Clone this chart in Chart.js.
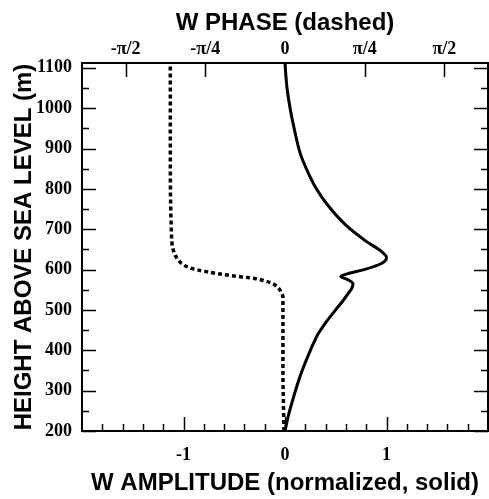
<!DOCTYPE html>
<html>
<head>
<meta charset="utf-8">
<script src="https://cdn.jsdelivr.net/npm/chart.js@4/dist/chart.umd.min.js"></script>
<style>
  html, body { margin: 0; padding: 0; background: #fff; }
  #wrap { width: 489px; height: 499px; }
</style>
</head>
<body>
<div id="wrap"><canvas id="myChart" width="489" height="499"></canvas></div>
<script>
// amplitude profile (solid)
let ampHeights = [200, 240, 276, 320, 357, 400, 420, 442, 470, 499, 524, 540, 555, 565, 575, 583, 590, 600, 615, 630, 645, 670, 710, 760, 804, 850, 888, 950, 1000, 1050, 1110];
let amplitude  = [0, 0.035, 0.075, 0.128, 0.18, 0.25, 0.286, 0.33, 0.405, 0.495, 0.575, 0.62, 0.66, 0.67, 0.62, 0.55, 0.62, 0.78, 0.95, 1.0, 0.95, 0.80, 0.60, 0.42, 0.30, 0.21, 0.15, 0.09, 0.05, 0.02, 0.0];

// phase profile (dashed), radians
let phaseHeights = [200, 350, 531, 545, 558, 565, 572, 578, 585, 595, 603, 612, 623, 648, 700, 900, 1110];
let phase        = [-0.01, -0.02, -0.02, -0.04, -0.08, -0.12, -0.2, -0.3, -0.53, -0.78, -0.92, -1.0, -1.05, -1.10, -1.12, -1.13, -1.13];

// tick labels
let ampTicks = [-1, 0, 1];
let phaseTicks = [-Math.PI / 2, -Math.PI / 4, 0, Math.PI / 4, Math.PI / 2];
let phaseLabels = ["-\u03c0/2", "-\u03c0/4", "0", "\u03c0/4", "\u03c0/2"];
let heightTicks = [200, 300, 400, 500, 600, 700, 800, 900, 1000, 1100];

let tickFont = { family: "'Liberation Serif', 'Times New Roman', serif", size: 18, weight: "bold" };
let titleFont = { family: "'Liberation Sans', Arial, sans-serif", size: 24, weight: "bold" };

// frame plus inward tick marks on all four sides
let framePlugin = {
    id: "frame",
    afterDraw(chart) {
        let ctx = chart.ctx;
        let a = chart.chartArea;
        let x = chart.scales.x, x2 = chart.scales.x2, y = chart.scales.y;
        ctx.save();
        ctx.strokeStyle = "#000";
        ctx.lineWidth = 1.5;
        ctx.beginPath();
        // height ticks every 50 m, long at each 100 m
        for (let h = 200; h <= 1100; h += 50) {
            let py = Math.round(y.getPixelForValue(h)) + 0.5;
            let len = h % 100 === 0 ? 14 : 7;
            ctx.moveTo(a.left, py); ctx.lineTo(a.left + len, py);
            ctx.moveTo(a.right, py); ctx.lineTo(a.right - len, py);
        }
        // amplitude ticks every 0.2
        for (let i = -9; i <= 9; i++) {
            let v = i / 5;
            let px = Math.round(x.getPixelForValue(v)) + 0.5;
            let len = i % 5 === 0 ? 14 : 7;
            ctx.moveTo(px, a.bottom); ctx.lineTo(px, a.bottom - len);
        }
        // phase ticks
        phaseTicks.forEach(function (v) {
            let px = Math.round(x2.getPixelForValue(v)) + 0.5;
            ctx.moveTo(px, a.top); ctx.lineTo(px, a.top + 14);
        });
        ctx.stroke();
        ctx.lineWidth = 2;
        ctx.strokeRect(a.left, a.top, a.right - a.left, a.bottom - a.top);
        ctx.restore();
    }
};

let ctx = document.getElementById("myChart");
let myChart = new Chart(ctx, {
    type: "scatter",
    data: {
        datasets: [{
            label: "W amplitude",
            data: ampHeights.map(function (h, i) { return { x: amplitude[i], y: h }; }),
            xAxisID: "x",
            yAxisID: "y",
            indexAxis: "y",
            showLine: true,
            borderColor: "#000",
            borderWidth: 3,
            pointRadius: 0,
            cubicInterpolationMode: "monotone"
        }, {
            label: "W phase",
            data: phaseHeights.map(function (h, i) { return { x: phase[i], y: h }; }),
            xAxisID: "x2",
            yAxisID: "y",
            indexAxis: "y",
            showLine: true,
            borderColor: "#000",
            borderWidth: 3.5,
            borderDash: [4, 3],
            pointRadius: 0,
            cubicInterpolationMode: "monotone"
        }]
    },
    options: {
        responsive: false,
        animation: false,
        layout: { padding: { left: 0, right: 1, top: 0, bottom: 0 } },
        plugins: {
            legend: { display: false },
            tooltip: { enabled: false }
        },
        scales: {
            x: {
                type: "linear",
                position: "bottom",
                min: -2,
                max: 2,
                grid: { display: false, drawTicks: false },
                border: { display: false },
                afterBuildTicks: function (scale) {
                    scale.ticks = ampTicks.map(function (v) { return { value: v }; });
                },
                afterFit: function (scale) { scale.height = 68; },
                ticks: {
                    color: "#000",
                    font: tickFont,
                    padding: 14,
                    maxRotation: 0,
                    callback: function (v) { return String(v); }
                },
                title: {
                    display: true,
                    text: "W AMPLITUDE (normalized, solid)",
                    color: "#000",
                    font: titleFont,
                    padding: { top: 0, bottom: 1 }
                }
            },
            x2: {
                type: "linear",
                position: "top",
                min: -2,
                max: 2,
                grid: { display: false, drawTicks: false },
                border: { display: false },
                afterBuildTicks: function (scale) {
                    scale.ticks = phaseTicks.map(function (v) { return { value: v }; });
                },
                afterFit: function (scale) { scale.height = 63; },
                ticks: {
                    color: "#000",
                    font: tickFont,
                    padding: 3,
                    maxRotation: 0,
                    callback: function (v, i) { return phaseLabels[i]; }
                },
                title: {
                    display: true,
                    text: "W PHASE (dashed)",
                    color: "#000",
                    font: titleFont,
                    padding: { top: 9, bottom: 0 }
                }
            },
            y: {
                type: "linear",
                position: "left",
                min: 200,
                max: 1112,
                grid: { display: false, drawTicks: false },
                border: { display: false },
                afterBuildTicks: function (scale) {
                    scale.ticks = heightTicks.map(function (v) { return { value: v }; });
                },
                afterFit: function (scale) { scale.width = 82; },
                ticks: {
                    color: "#000",
                    font: tickFont,
                    padding: 10,
                    callback: function (v) { return String(v); }
                },
                title: {
                    display: true,
                    text: "HEIGHT ABOVE SEA LEVEL (m)",
                    color: "#000",
                    font: titleFont,
                    padding: { top: 10, bottom: 0 }
                }
            }
        }
    },
    plugins: [framePlugin]
});
</script>
</body>
</html>
